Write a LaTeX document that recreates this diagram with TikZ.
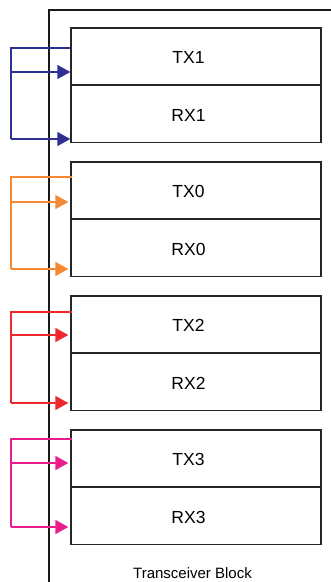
\documentclass[tikz,border=0pt]{standalone}
\usepackage{fontspec}
\setmainfont{Liberation Sans}
\usetikzlibrary{arrows.meta}
\definecolor{cblue}{RGB}{46,49,146}
\definecolor{corange}{RGB}{245,137,51}
\definecolor{cred}{RGB}{237,41,45}
\definecolor{cpink}{RGB}{233,30,140}
\tikzset{
  unit/.style={draw=black!85, line width=1.4pt, minimum width=250pt, minimum height=57pt, inner sep=0pt},
  lbl/.style={font=\fontsize{17.5}{20}\selectfont, inner sep=0pt},
  bus/.style={line width=1.4pt},
  tip/.style={-{Triangle[length=13pt,width=14pt]}},
}
\begin{document}
\begin{tikzpicture}[x=1pt,y=-1pt]
\useasboundingbox (0,0) rectangle (331,582);
% outer block
\coordinate (ob) at (49,582);
\coordinate (oc) at (49,10);
\coordinate (oe) at (331,10);
\draw[line width=1.8pt, black!90] (ob) -- (oc) -- (oe);
\node[font=\fontsize{15}{18}\selectfont, inner sep=0pt] (tb) at (192.5,573) {Transceiver Block};
% boxes
\node[unit] (tx1) at (196,56.5) {};
\node[unit] (rx1) at (196,114) {};
\node[unit] (tx0) at (196,190.5) {};
\node[unit] (rx0) at (196,248) {};
\node[unit] (tx2) at (196,324.5) {};
\node[unit] (rx2) at (196,382) {};
\node[unit] (tx3) at (196,458.5) {};
\node[unit] (rx3) at (196,516) {};
\node[lbl] (ltx1) at (188.5,57.5) {TX1};
\node[lbl] (lrx1) at (188.5,115) {RX1};
\node[lbl] (ltx0) at (188.5,191.5) {TX0};
\node[lbl] (lrx0) at (188.5,249) {RX0};
\node[lbl] (ltx2) at (188.5,325.5) {TX2};
\node[lbl] (lrx2) at (188.5,383) {RX2};
\node[lbl] (ltx3) at (188.5,459.5) {TX3};
\node[lbl] (lrx3) at (188.5,517) {RX3};
% bus coordinates
\coordinate (b1a) at (11,48);  \coordinate (b1b) at (11,139);
\coordinate (b0a) at (11,177); \coordinate (b0b) at (11,269);
\coordinate (b2a) at (11,312); \coordinate (b2b) at (11,403);
\coordinate (b3a) at (11,439); \coordinate (b3b) at (11,527);
% blue
\draw[bus, cblue] (tx1.west |- b1a) -- (b1a) -- (b1b);
\draw[bus, cblue, tip] (b1a |- 0,72) -- (tx1.west |- 0,72);
\draw[bus, cblue, tip] (b1b) -- (rx1.west |- b1b);
% orange
\draw[bus, corange] ([xshift=2pt]tx0.west |- b0a) -- (b0a) -- (b0b);
\draw[bus, corange, tip] (b0a |- 0,202) -- ([xshift=-2pt]tx0.west |- 0,202);
\draw[bus, corange, tip] (b0b) -- ([xshift=-2pt]rx0.west |- b0b);
% red
\draw[bus, cred] ([xshift=2pt]tx2.west |- b2a) -- (b2a) -- (b2b);
\draw[bus, cred, tip] (b2a |- 0,335) -- ([xshift=-2pt]tx2.west |- 0,335);
\draw[bus, cred, tip] (b2b) -- ([xshift=-2pt]rx2.west |- b2b);
% pink
\draw[bus, cpink] ([xshift=2pt]tx3.west |- b3a) -- (b3a) -- (b3b);
\draw[bus, cpink, tip] (b3a |- 0,463) -- ([xshift=-2pt]tx3.west |- 0,463);
\draw[bus, cpink, tip] (b3b) -- ([xshift=-2pt]rx3.west |- b3b);
\end{tikzpicture}
\end{document}
